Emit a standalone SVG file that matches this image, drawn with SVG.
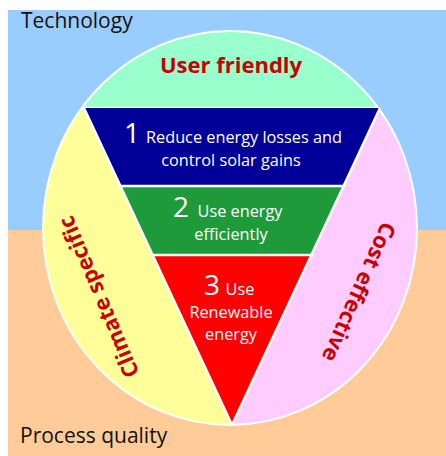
<svg xmlns="http://www.w3.org/2000/svg" width="446" height="456" viewBox="0 0 446 456">
<style>
.lbl{font-family:"Open Sans","Noto Sans","Liberation Sans",sans-serif;fill:#111}
.red{font-family:"Open Sans","Noto Sans","Liberation Sans",sans-serif;font-weight:bold;fill:#C80000;font-size:22px;text-anchor:middle}
.wt{font-family:"Open Sans","Noto Sans","Liberation Sans",sans-serif;fill:#fff;font-size:16.3px;text-anchor:middle}
.num{font-size:28px}
.sep{stroke:#fff;stroke-width:2.5;fill:none}
</style>
<defs>
<clipPath id="ell"><ellipse cx="230" cy="228" rx="187" ry="197"/></clipPath>
</defs>
<rect x="0" y="0" width="446" height="456" fill="#fff"/>
<rect x="8" y="10" width="438" height="220" fill="#99CCFF"/>
<rect x="8" y="230" width="438" height="226" fill="#FFCC99"/>
<text class="lbl" x="21" y="28" font-size="21">Technology</text>
<text class="lbl" x="20" y="443" font-size="21">Process quality</text>
<g id="circle">
<g clip-path="url(#ell)">
<rect x="40" y="28" width="380" height="400" fill="#99FFCC"/>
<polygon id="yellow" points="0,108 84,108 232,425 232,460 0,460" fill="#FFFF99"/>
<polygon id="pink" points="446,108 380,108 232,425 232,460 446,460" fill="#FFCCFF"/>
<line class="sep" x1="0" y1="108" x2="446" y2="108"/>
</g>
<ellipse cx="230" cy="228" rx="187" ry="197" fill="none" stroke="#fff" stroke-width="2"/>
</g>
<g id="band1">
<polygon points="84,108 380,108 344,186 120,186" fill="#000099"/>
</g>
<g id="band2">
<polygon points="120,186 344,186 312,255 153,255" fill="#1F9A3A"/>
</g>
<g id="band3">
<polygon points="153,255 312,255 232,425" fill="#FF0000"/>
</g>
<g id="connectors">
<line class="sep" x1="84" y1="108" x2="232" y2="425"/>
<line class="sep" x1="380" y1="108" x2="232" y2="425"/>
<line class="sep" x1="118" y1="186" x2="346" y2="186"/>
<line class="sep" x1="151" y1="255" x2="314" y2="255"/>
</g>
<g id="labels">
<text class="red" x="231" y="73">User friendly</text>
<text class="wt" x="244" y="143">Reduce energy losses and</text>
<text class="wt num" x="132" y="143">1</text>
<text class="wt" x="231" y="166">control solar gains</text>
<text class="wt num" x="181" y="217">2</text>
<text class="wt" x="240" y="217">Use energy</text>
<text class="wt" x="231" y="240">efficiently</text>
<text class="wt num" x="212" y="295">3</text>
<text class="wt" x="240" y="295">Use</text>
<text class="wt" x="231" y="318">Renewable</text>
<text class="wt" x="231" y="340">energy</text>
<text class="red" transform="translate(106,294) rotate(-113)">Climate specific</text>
<text class="red" transform="translate(352,289) rotate(114)">Cost effective</text>
</g>
</svg>
